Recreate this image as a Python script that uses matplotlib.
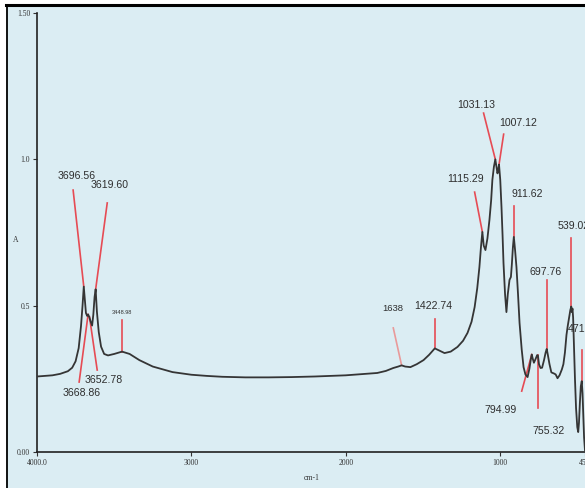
import matplotlib
matplotlib.use("Agg")
import matplotlib.pyplot as plt
from matplotlib.patches import Rectangle
from matplotlib.lines import Line2D

# spectrum (wavenumber cm-1, absorbance)
wavenumber = [4000, 3950, 3900, 3850, 3800, 3772, 3750, 3730, 3715, 3705, 3697, 3690, 3683, 3675,
              3669, 3662, 3652, 3643, 3635, 3627, 3620, 3612, 3600, 3585, 3565, 3540, 3500, 3449,
              3400, 3337, 3250, 3122, 3000, 2900, 2800, 2650, 2500, 2350, 2200, 2100, 2000, 1950,
              1906, 1850, 1796, 1740, 1692, 1660, 1638, 1615, 1581, 1540, 1496, 1460, 1423, 1395,
              1360, 1320, 1276, 1240, 1211, 1185, 1165, 1148, 1134, 1124, 1115, 1106, 1095, 1082,
              1069, 1058, 1050, 1040, 1031, 1024, 1017, 1012, 1007, 999, 991, 984, 978, 968, 959,
              950, 939, 930, 924, 917, 911, 903, 894, 884, 874, 860, 848, 836, 822, 810, 800, 795,
              788, 781, 770, 760, 755, 748, 738, 728, 715, 705, 698, 690, 680, 668, 650, 640, 628,
              615, 600, 590, 580, 570, 562, 553, 545, 539, 535, 531, 527, 522, 515, 508, 500, 494,
              489, 483, 477, 471, 466, 461, 456, 450]
absorbance = [0.258, 0.260, 0.262, 0.267, 0.276, 0.288, 0.310, 0.355, 0.430, 0.500, 0.565, 0.520,
              0.475, 0.465, 0.470, 0.462, 0.445, 0.432, 0.470, 0.530, 0.556, 0.480, 0.410, 0.360,
              0.335, 0.330, 0.335, 0.343, 0.335, 0.314, 0.292, 0.273, 0.264, 0.260, 0.257, 0.255,
              0.255, 0.256, 0.258, 0.260, 0.262, 0.264, 0.266, 0.268, 0.270, 0.277, 0.287, 0.292,
              0.296, 0.292, 0.290, 0.300, 0.314, 0.332, 0.354, 0.347, 0.338, 0.343, 0.359, 0.380,
              0.407, 0.445, 0.495, 0.560, 0.632, 0.700, 0.752, 0.705, 0.690, 0.730, 0.793, 0.860,
              0.930, 0.975, 1.000, 0.975, 0.952, 0.965, 0.982, 0.930, 0.837, 0.740, 0.646, 0.540,
              0.478, 0.540, 0.588, 0.598, 0.640, 0.700, 0.735, 0.690, 0.632, 0.540, 0.441, 0.350,
              0.290, 0.265, 0.256, 0.285, 0.320, 0.333, 0.318, 0.305, 0.318, 0.331, 0.330, 0.300,
              0.287, 0.288, 0.315, 0.340, 0.352, 0.330, 0.300, 0.272, 0.268, 0.265, 0.252, 0.262,
              0.282, 0.300, 0.340, 0.400, 0.430, 0.460, 0.485, 0.497, 0.478, 0.490, 0.460, 0.370,
              0.250, 0.150, 0.085, 0.068, 0.100, 0.170, 0.225, 0.242, 0.200, 0.120, 0.050, 0.005]

# peak labels: text, where the red line touches the curve
peak_text = ["3696.56", "3619.60", "3448.98", "3668.86", "3652.78", "1638", "1422.74", "1115.29",
             "1031.13", "1007.12", "911.62", "539.02", "697.76", "471.20", "794.99", "755.32"]
peak_wn = [3697, 3620, 3449, 3669, 3660, 1638, 1423, 1115, 1031, 1007, 911, 539, 698, 471, 795, 755]
peak_a = [0.565, 0.556, 0.343, 0.470, 0.462, 0.296, 0.354, 0.752, 1.0, 0.982, 0.735, 0.497, 0.352,
          0.242, 0.333, 0.330]

# layout of each label: other end of the line, text centre, font size
line_end = [(3766, 0.895), (3545, 0.851), (3449, 0.451), (3727, 0.239), (3610, 0.280),
            (1692, 0.424), (1423, 0.454), (1165, 0.888), (1107, 1.158), (977, 1.086),
            (911, 0.840), (539, 0.731), (698, 0.588), (471, 0.348), (860, 0.208), (755, 0.150)]
text_pos = [(3746, 0.943), (3532, 0.912), (3449, 0.475), (3714, 0.200), (3571, 0.246),
            (1698, 0.489), (1432, 0.499), (1224, 0.933), (1152, 1.186), (886, 1.124),
            (827, 0.881), (526, 0.772), (703, 0.615), (460, 0.420), (996, 0.143), (684, 0.072)]
text_size = [7.6, 7.6, 4.0, 7.6, 7.6, 6.8, 7.6, 7.6, 7.6, 7.6, 7.6, 7.6, 7.6, 7.6, 7.6, 7.6]

bg = "#dbedf3"
red = "#e64b54"
label_font = ["Liberation Sans", "DejaVu Sans"]

fig = plt.figure(figsize=(5.85, 4.88), dpi=100)
fig.patch.set_facecolor("white")
W, H = 585.0, 488.0
fig.patches.append(Rectangle((6 / W, 0), 1 - 6 / W, 1 - 5 / H, transform=fig.transFigure,
                             facecolor=bg, edgecolor="none", zorder=-10))
fig.lines.append(Line2D([6.5 / W, 6.5 / W], [0, 1 - 5 / H], transform=fig.transFigure,
                        color="black", lw=1.3, zorder=-5))
fig.lines.append(Line2D([6 / W, 1], [1 - 5 / H, 1 - 5 / H], transform=fig.transFigure,
                        color="black", lw=2.2, zorder=-5))

ax = fig.add_axes([37 / W, 1 - 452 / H, (585 - 37) / W, (452 - 13) / H])
ax.set_facecolor("none")
ax.plot(wavenumber, absorbance, color="#353535", lw=1.3, zorder=3)

for i in range(len(peak_text)):
    ax.plot([peak_wn[i], line_end[i][0]], [peak_a[i], line_end[i][1]],
            color=red if peak_text[i] != "1638" else "#e99a9a", lw=1.2, zorder=2)
    ax.text(text_pos[i][0], text_pos[i][1], peak_text[i], ha="center", va="center",
            fontsize=text_size[i], color="#2e2e2e", family=label_font, clip_on=False)

ax.set_xlim(4000, 450)
ax.set_ylim(0, 1.5)
ax.set_xticks([4000, 3000, 2000, 1000, 450])
ax.set_xticklabels(["4000.0", "3000", "2000", "1000", "450"])
ax.set_yticks([0, 0.5, 1.0, 1.5])
ax.set_yticklabels(["0.00", "0.5", "1.0", "1.50"])
ax.tick_params(direction="out", length=3, width=0.8, colors="#333333", labelsize=5.5, pad=2)
for lab in ax.get_xticklabels() + ax.get_yticklabels():
    lab.set_family("Liberation Serif")

for s in ["top", "right"]:
    ax.spines[s].set_visible(False)
for s in ["left", "bottom"]:
    ax.spines[s].set_color("#222222")
    ax.spines[s].set_linewidth(1.2)

fig.text(16 / W, 1 - 240 / H, "A", ha="center", va="center", fontsize=5.5,
         family="Liberation Serif", color="#333333")
fig.text(312 / W, 1 - 478 / H, "cm-1", ha="center", va="center", fontsize=5.5,
         family="Liberation Serif", color="#333333")

plt.savefig("out.png", dpi=100)
